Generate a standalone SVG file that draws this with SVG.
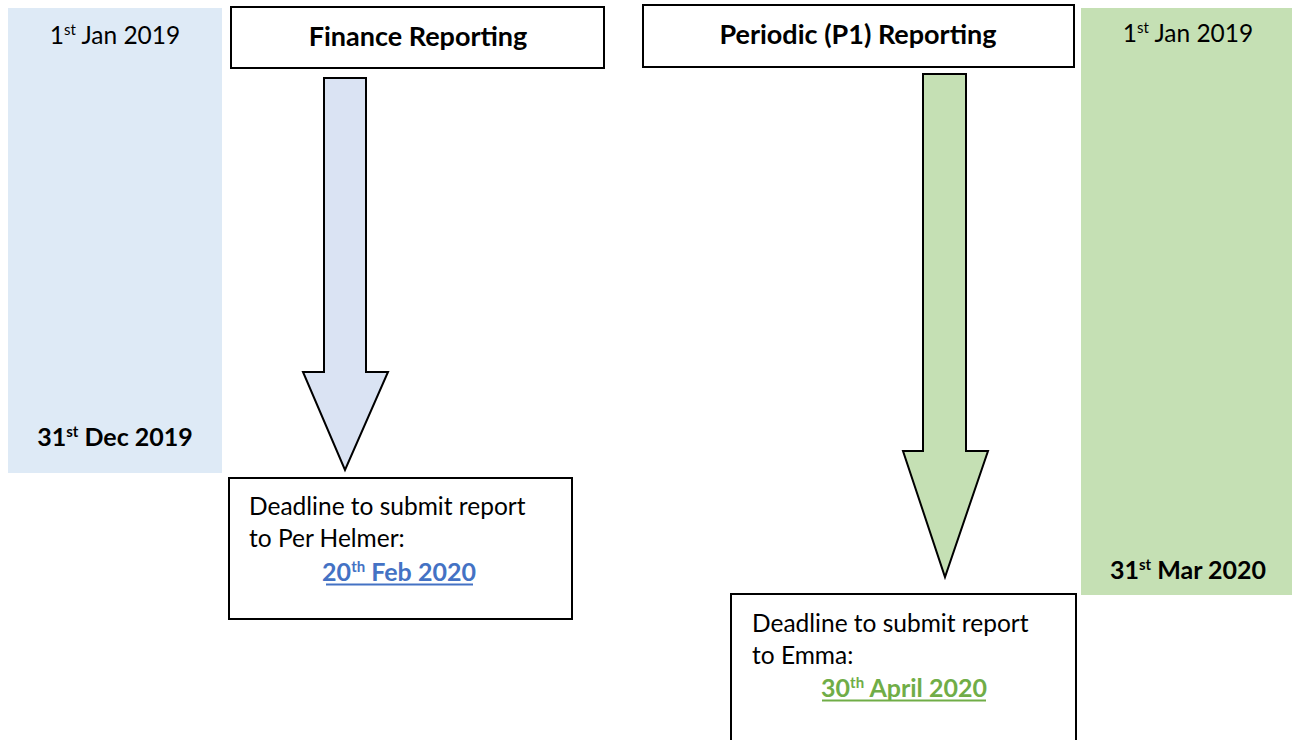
<svg xmlns="http://www.w3.org/2000/svg" width="1292" height="740" viewBox="0 0 1292 740">
<style>
text{font-family:Lato,"Open Sans","Liberation Sans",sans-serif;fill:#000}
.n{font-size:24.5px}
.b{font-size:25px;font-weight:bold}
.t{font-size:27px;font-weight:bold}
.sup{font-size:15px}
.box{fill:#fff;stroke:#000;stroke-width:2}
.arr{stroke:#000;stroke-width:2;stroke-linejoin:miter}
</style>
<g id="left-period">
<rect x="8" y="8" width="214" height="465" fill="#DEEAF6"/>
<text class="n" x="115" y="44" text-anchor="middle">1<tspan class="sup" dy="-9">st</tspan><tspan dy="9"> Jan 2019</tspan></text>
<text class="b" x="115" y="446" text-anchor="middle">31<tspan class="sup" dy="-9">st</tspan><tspan dy="9"> Dec 2019</tspan></text>
</g>
<g id="finance-title">
<rect class="box" x="231" y="7" width="373" height="61"/>
<text class="t" x="418" y="46" text-anchor="middle">Finance Reporting</text>
</g>
<g id="periodic-title">
<rect class="box" x="643" y="5" width="431" height="62"/>
<text class="t" x="858" y="44" text-anchor="middle">Periodic (P1) Reporting</text>
</g>
<g id="right-period">
<rect x="1081" y="8" width="211" height="587" fill="#C5E0B4"/>
<text class="n" x="1188" y="42" text-anchor="middle">1<tspan class="sup" dy="-9">st</tspan><tspan dy="9"> Jan 2019</tspan></text>
<text class="b" x="1188" y="579" text-anchor="middle">31<tspan class="sup" dy="-9">st</tspan><tspan dy="9"> Mar 2020</tspan></text>
</g>
<g id="connectors">
<polygon class="arr" fill="#DAE3F3" points="324,78 366,78 366,372 388,372 345,470 303,372 324,372"/>
<polygon class="arr" fill="#C5E0B4" points="923,74 966,74 966,451 988,451 945,577 903,451 923,451"/>
</g>
<g id="finance-deadline">
<rect class="box" x="229" y="478" width="343" height="141"/>
<text class="n" x="249" y="515">Deadline to submit report</text>
<text class="n" x="249" y="547">to Per Helmer:</text>
<text class="b" x="399" y="581" text-anchor="middle" style="fill:#4472C4">20<tspan class="sup" dy="-9">th</tspan><tspan dy="9"> Feb 2020</tspan></text>
<line x1="326" y1="584.5" x2="473" y2="584.5" stroke="#4472C4" stroke-width="2"/>
</g>
<g id="periodic-deadline">
<rect class="box" x="731" y="594" width="345" height="160"/>
<text class="n" x="752" y="632">Deadline to submit report</text>
<text class="n" x="752" y="664">to Emma:</text>
<text class="b" x="904" y="697" text-anchor="middle" style="fill:#70AD47">30<tspan class="sup" dy="-9">th</tspan><tspan dy="9"> April 2020</tspan></text>
<line x1="822" y1="700.5" x2="986" y2="700.5" stroke="#70AD47" stroke-width="2"/>
</g>
</svg>
